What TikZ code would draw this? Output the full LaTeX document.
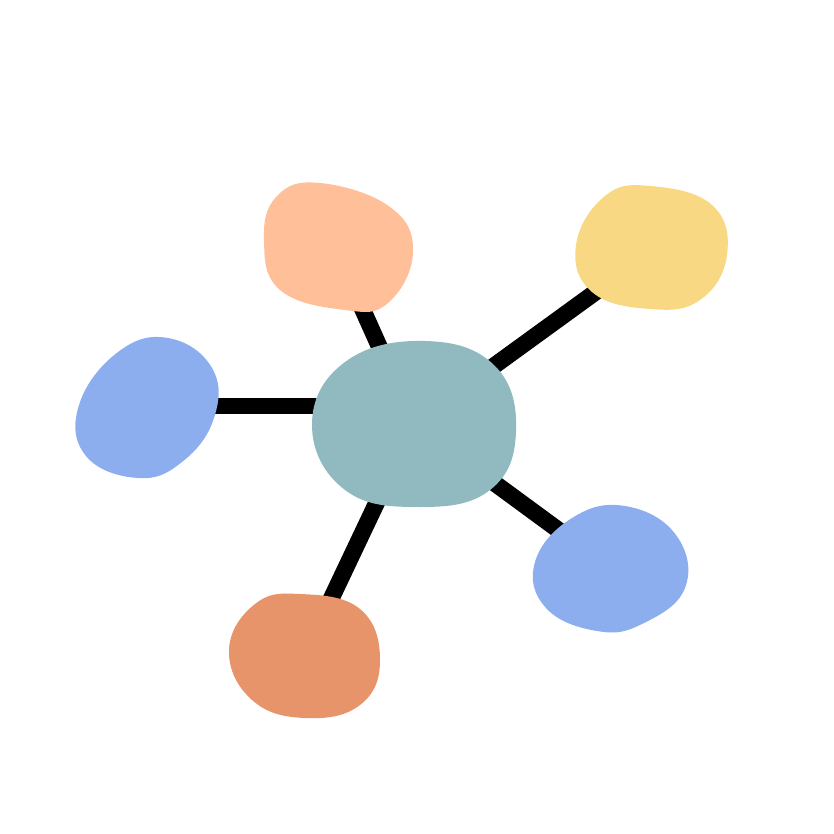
\documentclass[tikz,border=0pt]{standalone}
\usetikzlibrary{positioning}
\definecolor{hubteal}{HTML}{91BAC0}
\definecolor{peach}{HTML}{FFBF99}
\definecolor{sand}{HTML}{F8D882}
\definecolor{sky}{HTML}{8DAEEE}
\definecolor{clay}{HTML}{E8946A}
\tikzset{
  spoke/.style={line width=9.5pt,black},
  blob/.style={smooth cycle,tension=0.72}
}
\begin{document}
\begin{tikzpicture}[x=0.02cm,y=-0.02cm]
    \useasboundingbox (0,0) rectangle (834,834);
    % centres
    \coordinate (hub) at (414,424);
    \coordinate (top) at (336,250);
    \coordinate (topright) at (648,254);
    \coordinate (left) at (147,406);
    \coordinate (bottomright) at (606,565);
    \coordinate (bottom) at (304,656);
    % spokes
    \draw[spoke] (hub) -- (top);
    \draw[spoke] (hub) -- (topright);
    \draw[spoke] (left) -- (left -| hub);
    \draw[spoke] (hub) -- (bottomright);
    \draw[spoke] (hub) -- (bottom);
    % blobs
    \fill[peach] plot[blob] coordinates {(320,183) (390,207) (413,252) (388,303) (345,310) (280,290) (264,240) (277,196)};
    \fill[sand] plot[blob] coordinates {(650,186) (712,205) (727,255) (700,300) (650,309) (592,292) (576,245) (605,196)};
    \fill[sky] plot[blob] coordinates {(168,338) (212,368) (214,418) (182,462) (138,478) (86,456) (79,405) (118,352)};
    \fill[sky] plot[blob] coordinates {(625,506) (676,535) (685,588) (642,624) (597,631) (546,608) (535,562) (572,518)};
    \fill[clay] plot[blob] coordinates {(300,594) (360,609) (380,660) (360,705) (305,718) (252,700) (229,650) (255,604)};
    \fill[hubteal] plot[blob] coordinates {(425,341) (495,366) (516,432) (490,490) (420,507) (345,490) (312,425) (345,362)};
\end{tikzpicture}
\end{document}
